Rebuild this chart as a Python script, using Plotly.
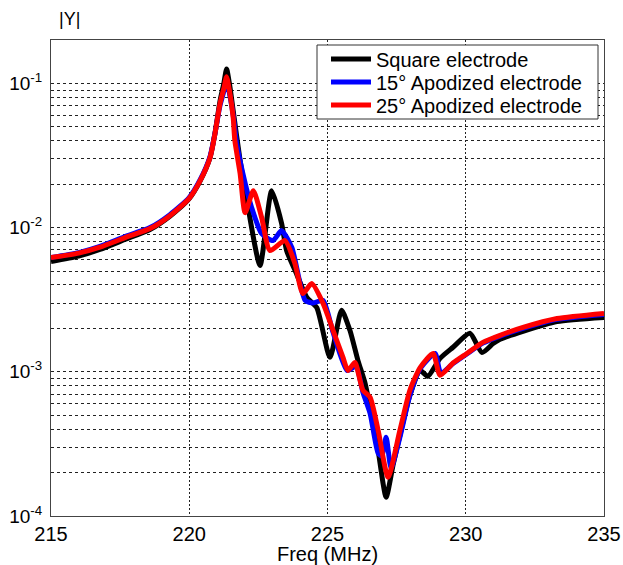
import plotly.graph_objects as go

# ---- data ----
f_square = [215.0, 216.0, 216.77, 217.7, 218.58, 219.3, 219.99, 220.39, 220.75, 220.93, 221.11, 221.25, 221.35,
            221.47, 221.59, 221.84, 222.13, 222.56, 222.98, 223.34, 223.52, 223.86, 224.25, 224.61, 225.09,
            225.51, 225.81, 226.10, 226.36, 226.61, 226.83, 227.12, 227.37, 227.62, 227.98, 228.35, 228.63,
            229.07, 229.54, 230.15, 230.59, 230.99, 231.24, 232.07, 233.3, 235.0]
y_square = [0.00582, 0.00635, 0.00705, 0.0083, 0.0097, 0.0120, 0.0158, 0.0210, 0.0305, 0.0450, 0.075, 0.100, 0.126,
            0.095, 0.0646, 0.0291, 0.0137, 0.00546, 0.0180, 0.0107, 0.00693, 0.00489, 0.00328, 0.00279, 0.00126,
            0.00267, 0.00194, 0.00120, 0.000832, 0.000484, 0.000286, 0.000135, 0.000225, 0.000364, 0.000687,
            0.00102, 0.000931, 0.00124, 0.00148, 0.00185, 0.00136, 0.00157, 0.00168, 0.00191, 0.00223, 0.00238]

f_apod15 = [215.0, 216.0, 216.77, 217.7, 218.58, 219.3, 219.99, 220.39, 220.75, 220.93, 221.11, 221.25, 221.35,
            221.47, 221.59, 221.72, 221.94, 222.26, 222.62, 223.03, 223.34, 223.71, 224.19, 224.48, 224.84,
            225.20, 225.71, 226.03, 226.28, 226.54, 226.83, 226.97, 227.12, 227.30, 227.62, 227.98, 228.35,
            228.89, 229.10, 229.54, 230.04, 230.62, 231.24, 232.07, 233.3, 235.0]
y_apod15 = [0.0062, 0.0067, 0.0074, 0.0087, 0.0100, 0.0123, 0.0161, 0.0214, 0.0310, 0.0450, 0.0700, 0.088, 0.104,
            0.082, 0.060, 0.038, 0.0237, 0.0137, 0.00907, 0.00813, 0.00953, 0.00728, 0.00313, 0.00300, 0.00313,
            0.00188, 0.00102, 0.00109, 0.000722, 0.000516, 0.000273, 0.000260, 0.000352, 0.000215, 0.000352,
            0.000687, 0.00105, 0.00134, 0.000977, 0.00114, 0.00133, 0.00158, 0.00177, 0.00200, 0.00231, 0.00250]

f_apod25 = [215.0, 216.0, 216.77, 217.7, 218.58, 219.3, 219.99, 220.39, 220.75, 220.93, 221.11, 221.25, 221.35,
            221.47, 221.59, 221.65, 221.84, 222.02, 222.32, 222.62, 222.92, 223.46, 223.82, 224.11, 224.43,
            224.84, 225.20, 225.56, 225.74, 225.99, 226.28, 226.54, 226.83, 227.19, 227.62, 227.98, 228.35,
            228.82, 229.07, 229.54, 230.04, 230.62, 231.24, 232.07, 233.3, 235.0]
y_apod25 = [0.00619, 0.00665, 0.00731, 0.00855, 0.00984, 0.0121, 0.0159, 0.0211, 0.0305, 0.0448, 0.0721, 0.092, 0.111,
            0.085, 0.0577, 0.040, 0.0237, 0.0127, 0.0180, 0.0117, 0.00693, 0.00813, 0.00564, 0.00349, 0.00409,
            0.00298, 0.00194, 0.00126, 0.00102, 0.00116, 0.000745, 0.000667, 0.000394, 0.000186, 0.000394,
            0.000745, 0.00107, 0.00134, 0.000946, 0.00115, 0.00134, 0.00160, 0.00179, 0.00203, 0.00234, 0.00254]

series_names = ["Square electrode", "15° Apodized electrode", "25° Apodized electrode"]
series_colors = ["#000000", "#0000ff", "#ff0000"]

x_ticks = [215, 220, 225, 230, 235]
y_ticks = [1e-4, 1e-3, 1e-2, 1e-1]
y_ticktext = ["10<sup>-4</sup>", "10<sup>-3</sup>", "10<sup>-2</sup>", "10<sup>-1</sup>"]
y_minor = [m * 10.0 ** e for e in (-4, -3, -2, -1) for m in range(2, 10) if m * 10.0 ** e <= 0.2]

FONT = "Liberation Sans, Arial, sans-serif"
W, H = 623, 565
ML, MR, MT, MB = 51, 19, 40, 49
PW, PH = W - ML - MR, H - MT - MB


def px(xp):
    return (xp - ML) / PW


def py(yp):
    return (H - MB - yp) / PH


legend_ids = ["legend", "legend2", "legend3"]
legend_rows = [59, 82, 105]

fig = go.Figure()
for fx, fy, name, col, lid in zip([f_square, f_apod15, f_apod25], [y_square, y_apod15, y_apod25],
                                  series_names, series_colors, legend_ids):
    fig.add_trace(go.Scatter(x=fx, y=fy, mode="lines", name=name, legend=lid,
                             line=dict(color=col, width=5, shape="spline", smoothing=0.6)))

legend_common = dict(xanchor="left", yanchor="middle", bgcolor="rgba(0,0,0,0)", borderwidth=0,
                     font=dict(size=20, family=FONT), itemwidth=40)
layout_legends = {}
for lid, row in zip(legend_ids, legend_rows):
    layout_legends[lid] = dict(x=px(326), y=py(row), **legend_common)

fig.update_layout(
    width=W, height=H,
    margin=dict(l=ML, r=MR, t=MT, b=MB, autoexpand=False),
    paper_bgcolor="white", plot_bgcolor="white",
    font=dict(family=FONT, size=18, color="black"),
    showlegend=True,
    **layout_legends,
)
# legend frame
fig.add_shape(type="rect", xref="paper", yref="paper", x0=px(317), x1=px(598), y0=py(119), y1=py(45),
              fillcolor="white", line=dict(color="#333", width=1), layer="above")

fig.update_xaxes(
    range=[215, 235], tickvals=x_ticks, ticks="", showline=True, linecolor="#444", linewidth=1, mirror=True,
    showgrid=True, gridcolor="#222", gridwidth=1, griddash="2px,2px", zeroline=False, automargin=False,
    title=dict(text="Freq (MHz)", standoff=1, font=dict(size=20)), tickfont=dict(size=20),
)
fig.update_yaxes(
    type="log", range=[-4, -0.699], tickvals=y_ticks, ticktext=y_ticktext, ticks="",
    showline=True, linecolor="#444", linewidth=1, mirror=True, automargin=False,
    showgrid=True, gridcolor="#222", gridwidth=1, griddash="3px,3px", zeroline=False,
    tickfont=dict(size=19), ticklabelstandoff=4,
    minor=dict(tickvals=y_minor, showgrid=True, gridcolor="#222", gridwidth=1, griddash="3px,3px", ticks=""),
)
fig.add_annotation(text="|Y|", xref="paper", yref="paper", x=px(57), y=py(19), xanchor="left", yanchor="middle",
                   showarrow=False, font=dict(size=18, family=FONT))

fig.write_html("out.html", config={"displayModeBar": False},
               post_script="document.body.style.margin='0px';document.body.style.overflow='hidden';")
